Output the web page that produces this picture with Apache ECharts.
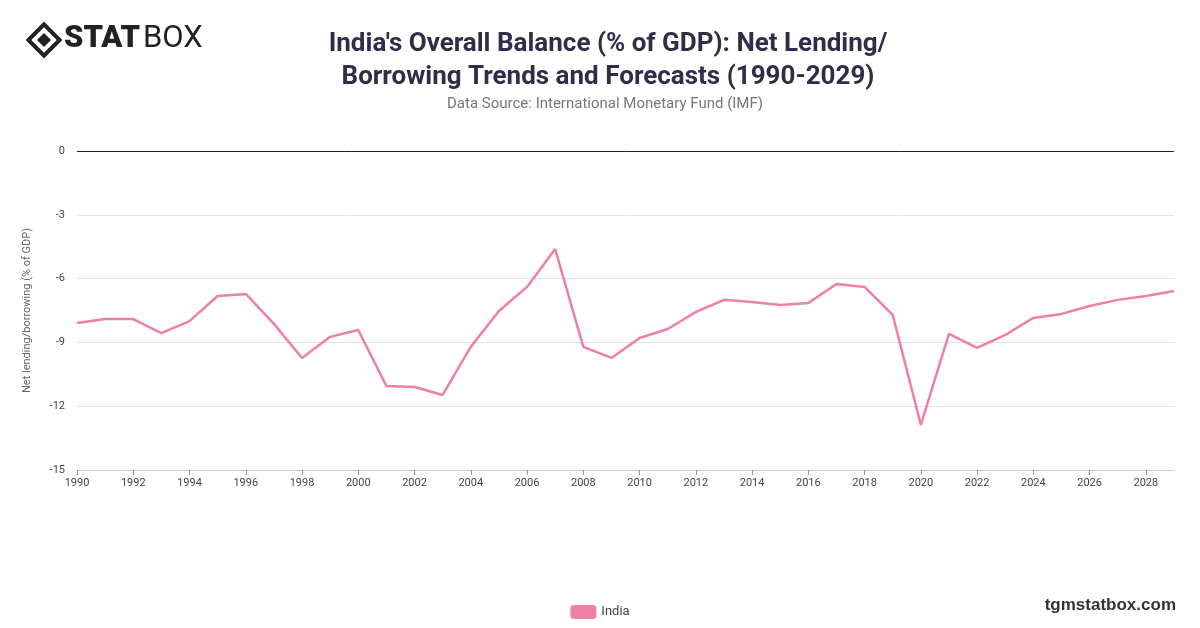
<!DOCTYPE html>
<html>
<head>
<meta charset="utf-8">
<script src="https://cdn.jsdelivr.net/npm/echarts@6/dist/echarts.min.js"></script>
<style>html,body{margin:0;padding:0;background:#fff}#chart{width:1200px;height:628px}</style>
</head>
<body>
<div id="chart"></div>
<script>
var years = [];
for (var y = 1990; y <= 2029; y++) years.push(String(y));

var india = [-8.09, -7.9, -7.9, -8.56, -8.0, -6.82, -6.72, -8.13, -9.73, -8.74,
    -8.42, -11.05, -11.1, -11.47, -9.21, -7.52, -6.39, -4.61, -9.21, -9.73,
    -8.79, -8.37, -7.57, -7.0, -7.1, -7.24, -7.15, -6.25, -6.39, -7.71,
    -12.88, -8.6, -9.26, -8.65, -7.85, -7.66, -7.29, -7.0, -6.82, -6.58];

var myChart = echarts.init(document.getElementById('chart'));

var option = {
    animation: false,
    textStyle: { fontFamily: 'Roboto' },
    title: [{
        text: "India's Overall Balance (% of GDP): Net Lending/\nBorrowing Trends and Forecasts (1990-2029)",
        left: 603, top: 23, textAlign: 'center',
        textStyle: { fontSize: 26, fontWeight: 'bold', color: '#2e2e48', lineHeight: 33, fontFamily: 'Roboto' }
    }, {
        text: 'Data Source: International Monetary Fund (IMF)',
        left: 600, top: 92, textAlign: 'center',
        textStyle: { fontSize: 15, fontWeight: 'normal', color: '#777' }
    }],
    graphic: [
        { type: 'rect', shape: { x: -11, y: -11, width: 22, height: 22 }, x: 44, y: 40, rotation: Math.PI / 4,
          style: { fill: 'none', stroke: '#222', lineWidth: 4 } },
        { type: 'rect', shape: { x: -5, y: -5, width: 10, height: 10 }, x: 44, y: 40, rotation: Math.PI / 4,
          style: { fill: '#222' } },
        { type: 'text', left: 64, top: 24, style: { text: 'STAT', fontSize: 31, fontWeight: 900, fill: '#222', fontFamily: 'Roboto' } },
        { type: 'text', left: 143, top: 24, style: { text: 'BOX', fontSize: 31, fontWeight: 'normal', fill: '#222', fontFamily: 'Roboto' } },
        { type: 'text', right: 24, top: 597, style: { text: 'tgmstatbox.com', fontSize: 17, fontWeight: 'bold', fill: '#333' } }
    ],
    legend: {
        bottom: 4, left: 'center', itemWidth: 26, itemHeight: 14, icon: 'roundRect',
        textStyle: { fontSize: 13, color: '#444' },
        data: ['India']
    },
    grid: { left: 77, right: 26, top: 151, bottom: 158 },
    xAxis: {
        type: 'category', boundaryGap: false, data: years,
        axisLine: { onZero: false, lineStyle: { color: '#ccc' } },
        axisTick: { show: true, interval: 1, lineStyle: { color: '#999' } },
        axisLabel: { interval: 1, color: '#444', fontSize: 11 }
    },
    yAxis: {
        type: 'value', min: -15, max: 0, interval: 3,
        name: 'Net lending/borrowing (% of GDP)', nameLocation: 'middle', nameGap: 44,
        nameTextStyle: { color: '#666', fontSize: 11 },
        axisLine: { show: false }, axisTick: { show: false },
        axisLabel: { color: '#444', fontSize: 11, margin: 12 },
        splitLine: { lineStyle: { color: '#e3e3e3' } }
    },
    series: [{
        name: 'India', type: 'line', data: india, symbol: 'none',
        lineStyle: { color: '#f07fa8', width: 2.5 }, itemStyle: { color: '#f07fa8' },
        markLine: { silent: true, symbol: 'none', label: { show: false },
            lineStyle: { color: '#222', type: 'solid', width: 1 }, data: [{ yAxis: 0 }] }
    }]
};

myChart.setOption(option);
</script>
</body>
</html>
